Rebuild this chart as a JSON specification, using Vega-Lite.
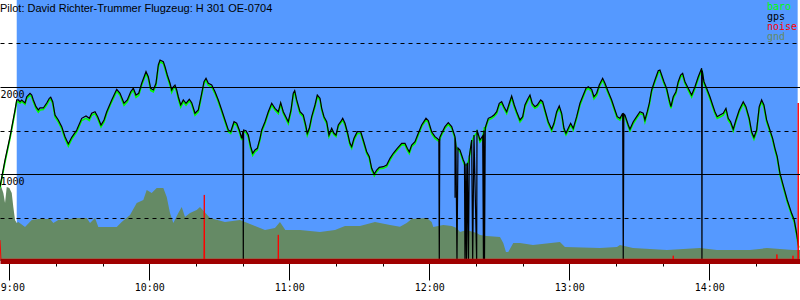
{
  "$schema": "https://vega.github.io/schema/vega-lite/v6.json",
  "width": 800,
  "height": 261,
  "autosize": {"type": "none"},
  "padding": {"left": 0, "top": 0, "right": 0, "bottom": 39},
  "background": "white",
  "config": {"view": {"stroke": null}},
  "title": {"text": "Pilot: David Richter-Trummer Flugzeug: H 301 OE-0704", "anchor": "start", "frame": "group", "orient": "top", "baseline": "top", "offset": -14, "font": "Liberation Sans", "fontSize": 11, "fontWeight": "normal", "color": "black"},
  "datasets": {
    "bg": [{"start": 3.17, "end": 337.9}],
    "track": [
      {"t": -4.0, "gps": 854, "baro": 840},
      {"t": -1.84, "gps": 1161, "baro": 1140},
      {"t": 0.3, "gps": 1429, "baro": 1410},
      {"t": 2.44, "gps": 1736, "baro": 1715},
      {"t": 3.17, "gps": 1851, "baro": 1830},
      {"t": 3.86, "gps": 1851, "baro": 1830},
      {"t": 4.59, "gps": 1831, "baro": 1815},
      {"t": 5.31, "gps": 1851, "baro": 1835},
      {"t": 6.73, "gps": 1816, "baro": 1800},
      {"t": 7.46, "gps": 1888, "baro": 1870},
      {"t": 8.87, "gps": 1928, "baro": 1905},
      {"t": 9.6, "gps": 1908, "baro": 1885},
      {"t": 10.29, "gps": 1851, "baro": 1830},
      {"t": 11.44, "gps": 1774, "baro": 1750},
      {"t": 12.43, "gps": 1736, "baro": 1710},
      {"t": 13.16, "gps": 1759, "baro": 1735},
      {"t": 14.57, "gps": 1759, "baro": 1740},
      {"t": 16.03, "gps": 1816, "baro": 1795},
      {"t": 17.14, "gps": 1870, "baro": 1850},
      {"t": 17.74, "gps": 1882, "baro": 1860},
      {"t": 18.6, "gps": 1831, "baro": 1810},
      {"t": 19.59, "gps": 1678, "baro": 1655},
      {"t": 21.0, "gps": 1621, "baro": 1600},
      {"t": 22.46, "gps": 1544, "baro": 1520},
      {"t": 23.87, "gps": 1429, "baro": 1405},
      {"t": 25.29, "gps": 1345, "baro": 1320},
      {"t": 26.74, "gps": 1422, "baro": 1400},
      {"t": 28.89, "gps": 1506, "baro": 1485},
      {"t": 31.03, "gps": 1640, "baro": 1615},
      {"t": 32.87, "gps": 1667, "baro": 1640},
      {"t": 34.29, "gps": 1640, "baro": 1615},
      {"t": 35.31, "gps": 1698, "baro": 1675},
      {"t": 36.73, "gps": 1716, "baro": 1695},
      {"t": 37.89, "gps": 1659, "baro": 1635},
      {"t": 39.3, "gps": 1563, "baro": 1540},
      {"t": 40.59, "gps": 1621, "baro": 1600},
      {"t": 41.74, "gps": 1716, "baro": 1695},
      {"t": 43.89, "gps": 1851, "baro": 1830},
      {"t": 46.03, "gps": 1974, "baro": 1950},
      {"t": 47.44, "gps": 1928, "baro": 1905},
      {"t": 49.16, "gps": 1813, "baro": 1790},
      {"t": 50.57, "gps": 1851, "baro": 1830},
      {"t": 52.03, "gps": 1946, "baro": 1925},
      {"t": 53.14, "gps": 1985, "baro": 1965},
      {"t": 54.3, "gps": 1908, "baro": 1880},
      {"t": 55.46, "gps": 1928, "baro": 1905},
      {"t": 56.74, "gps": 2043, "baro": 2020},
      {"t": 58.59, "gps": 2176, "baro": 2155},
      {"t": 59.57, "gps": 2118, "baro": 2095},
      {"t": 60.6, "gps": 1985, "baro": 1960},
      {"t": 61.71, "gps": 1966, "baro": 1945},
      {"t": 62.87, "gps": 2043, "baro": 2020},
      {"t": 63.86, "gps": 2253, "baro": 2230},
      {"t": 64.59, "gps": 2310, "baro": 2290},
      {"t": 66.0, "gps": 2291, "baro": 2270},
      {"t": 66.73, "gps": 2233, "baro": 2210},
      {"t": 67.71, "gps": 2138, "baro": 2115},
      {"t": 68.87, "gps": 2043, "baro": 2020},
      {"t": 69.6, "gps": 1966, "baro": 1940},
      {"t": 70.29, "gps": 2003, "baro": 1980},
      {"t": 71.01, "gps": 2023, "baro": 2000},
      {"t": 71.74, "gps": 1966, "baro": 1945},
      {"t": 72.43, "gps": 1888, "baro": 1865},
      {"t": 73.46, "gps": 1793, "baro": 1770},
      {"t": 74.57, "gps": 1851, "baro": 1830},
      {"t": 75.73, "gps": 1813, "baro": 1790},
      {"t": 77.14, "gps": 1859, "baro": 1840},
      {"t": 78.17, "gps": 1820, "baro": 1800},
      {"t": 79.59, "gps": 1698, "baro": 1675},
      {"t": 81.0, "gps": 1736, "baro": 1715},
      {"t": 82.46, "gps": 1928, "baro": 1905},
      {"t": 83.44, "gps": 2061, "baro": 2040},
      {"t": 84.3, "gps": 2100, "baro": 2080},
      {"t": 85.29, "gps": 2043, "baro": 2020},
      {"t": 86.74, "gps": 2023, "baro": 2000},
      {"t": 88.16, "gps": 1946, "baro": 1925},
      {"t": 89.57, "gps": 1851, "baro": 1830},
      {"t": 91.03, "gps": 1736, "baro": 1715},
      {"t": 92.44, "gps": 1621, "baro": 1600},
      {"t": 93.86, "gps": 1506, "baro": 1485},
      {"t": 94.89, "gps": 1486, "baro": 1465},
      {"t": 96.3, "gps": 1601, "baro": 1580},
      {"t": 97.46, "gps": 1583, "baro": 1560},
      {"t": 98.57, "gps": 1506, "baro": 1485},
      {"t": 99.6, "gps": 1410, "baro": 1390},
      {"t": 100.14, "gps": 1494, "baro": 1470},
      {"t": 100.29, "gps": 0, "baro": 1490},
      {"t": 100.41, "gps": 1506, "baro": 1490},
      {"t": 101.44, "gps": 1498, "baro": 1475},
      {"t": 102.43, "gps": 1448, "baro": 1425},
      {"t": 103.46, "gps": 1314, "baro": 1290},
      {"t": 104.31, "gps": 1238, "baro": 1215},
      {"t": 105.3, "gps": 1276, "baro": 1255},
      {"t": 106.29, "gps": 1295, "baro": 1275},
      {"t": 107.44, "gps": 1410, "baro": 1390},
      {"t": 108.17, "gps": 1506, "baro": 1485},
      {"t": 109.59, "gps": 1601, "baro": 1580},
      {"t": 111.0, "gps": 1716, "baro": 1695},
      {"t": 112.46, "gps": 1813, "baro": 1790},
      {"t": 113.87, "gps": 1755, "baro": 1735},
      {"t": 115.29, "gps": 1716, "baro": 1695},
      {"t": 116.31, "gps": 1820, "baro": 1800},
      {"t": 117.43, "gps": 1716, "baro": 1695},
      {"t": 119.57, "gps": 1601, "baro": 1580},
      {"t": 120.73, "gps": 1736, "baro": 1715},
      {"t": 121.71, "gps": 1928, "baro": 1905},
      {"t": 122.31, "gps": 1957, "baro": 1935},
      {"t": 123.17, "gps": 1851, "baro": 1830},
      {"t": 124.59, "gps": 1716, "baro": 1695},
      {"t": 126.0, "gps": 1678, "baro": 1655},
      {"t": 127.03, "gps": 1563, "baro": 1540},
      {"t": 127.71, "gps": 1468, "baro": 1445},
      {"t": 128.57, "gps": 1525, "baro": 1505},
      {"t": 129.6, "gps": 1659, "baro": 1640},
      {"t": 131.01, "gps": 1793, "baro": 1770},
      {"t": 132.0, "gps": 1908, "baro": 1885},
      {"t": 133.16, "gps": 1870, "baro": 1850},
      {"t": 133.89, "gps": 1755, "baro": 1735},
      {"t": 134.87, "gps": 1659, "baro": 1640},
      {"t": 136.03, "gps": 1601, "baro": 1580},
      {"t": 137.01, "gps": 1448, "baro": 1430},
      {"t": 138.17, "gps": 1525, "baro": 1505},
      {"t": 139.16, "gps": 1468, "baro": 1450},
      {"t": 140.01, "gps": 1448, "baro": 1430},
      {"t": 141.0, "gps": 1563, "baro": 1545},
      {"t": 142.03, "gps": 1601, "baro": 1585},
      {"t": 142.89, "gps": 1640, "baro": 1620},
      {"t": 143.87, "gps": 1583, "baro": 1565},
      {"t": 144.86, "gps": 1486, "baro": 1465},
      {"t": 146.01, "gps": 1353, "baro": 1335},
      {"t": 146.74, "gps": 1314, "baro": 1295},
      {"t": 147.73, "gps": 1410, "baro": 1390},
      {"t": 149.14, "gps": 1486, "baro": 1465},
      {"t": 150.6, "gps": 1486, "baro": 1465},
      {"t": 151.71, "gps": 1391, "baro": 1370},
      {"t": 153.17, "gps": 1256, "baro": 1235},
      {"t": 154.29, "gps": 1199, "baro": 1180},
      {"t": 155.31, "gps": 1066, "baro": 1045},
      {"t": 156.43, "gps": 1000, "baro": 980},
      {"t": 157.46, "gps": 1046, "baro": 1025},
      {"t": 158.57, "gps": 1077, "baro": 1060},
      {"t": 160.29, "gps": 1084, "baro": 1065},
      {"t": 161.74, "gps": 1103, "baro": 1085},
      {"t": 163.16, "gps": 1180, "baro": 1160},
      {"t": 164.57, "gps": 1238, "baro": 1220},
      {"t": 166.29, "gps": 1295, "baro": 1275},
      {"t": 168.17, "gps": 1353, "baro": 1335},
      {"t": 169.59, "gps": 1353, "baro": 1335},
      {"t": 170.57, "gps": 1295, "baro": 1275},
      {"t": 171.43, "gps": 1256, "baro": 1235},
      {"t": 172.46, "gps": 1333, "baro": 1315},
      {"t": 173.87, "gps": 1371, "baro": 1350},
      {"t": 175.29, "gps": 1468, "baro": 1450},
      {"t": 176.74, "gps": 1563, "baro": 1545},
      {"t": 178.59, "gps": 1640, "baro": 1620},
      {"t": 179.57, "gps": 1613, "baro": 1595},
      {"t": 181.03, "gps": 1486, "baro": 1465},
      {"t": 182.44, "gps": 1429, "baro": 1410},
      {"t": 183.86, "gps": 1399, "baro": 1380},
      {"t": 184.1, "gps": 1395, "baro": 1375},
      {"t": 184.29, "gps": 0, "baro": 1380},
      {"t": 184.5, "gps": 1420, "baro": 1400},
      {"t": 185.31, "gps": 1468, "baro": 1450},
      {"t": 186.73, "gps": 1544, "baro": 1525},
      {"t": 188.14, "gps": 1590, "baro": 1570},
      {"t": 189.6, "gps": 1544, "baro": 1525},
      {"t": 191.01, "gps": 1429, "baro": 1410},
      {"t": 191.05, "gps": 728, "baro": 1405},
      {"t": 191.1, "gps": 1420, "baro": 1400},
      {"t": 191.44, "gps": 1320, "baro": 1300},
      {"t": 191.87, "gps": 0, "baro": 1290},
      {"t": 192.3, "gps": 1300, "baro": 1285},
      {"t": 193.16, "gps": 1276, "baro": 1255},
      {"t": 194.57, "gps": 1161, "baro": 1140},
      {"t": 195.09, "gps": 1130, "baro": 1110},
      {"t": 195.3, "gps": 0, "baro": 1105},
      {"t": 195.73, "gps": 1120, "baro": 1100},
      {"t": 195.94, "gps": 0, "baro": 1100},
      {"t": 196.37, "gps": 1130, "baro": 1110},
      {"t": 196.8, "gps": 0, "baro": 1150},
      {"t": 197.14, "gps": 1200, "baro": 1180},
      {"t": 198.17, "gps": 1391, "baro": 1370},
      {"t": 198.6, "gps": 0, "baro": 1400},
      {"t": 199.16, "gps": 1448, "baro": 1430},
      {"t": 200.31, "gps": 0, "baro": 1470},
      {"t": 200.45, "gps": 1506, "baro": 1485},
      {"t": 201.73, "gps": 1391, "baro": 1370},
      {"t": 202.89, "gps": 1437, "baro": 1415},
      {"t": 203.23, "gps": 0, "baro": 1480},
      {"t": 203.4, "gps": 1500, "baro": 1490},
      {"t": 203.66, "gps": 0, "baro": 1540},
      {"t": 204.0, "gps": 1530, "baro": 1510},
      {"t": 204.6, "gps": 1583, "baro": 1565},
      {"t": 205.29, "gps": 1640, "baro": 1620},
      {"t": 206.74, "gps": 1659, "baro": 1640},
      {"t": 207.73, "gps": 1678, "baro": 1660},
      {"t": 208.89, "gps": 1716, "baro": 1695},
      {"t": 210.0, "gps": 1813, "baro": 1790},
      {"t": 211.03, "gps": 1831, "baro": 1810},
      {"t": 212.01, "gps": 1774, "baro": 1755},
      {"t": 213.17, "gps": 1716, "baro": 1695},
      {"t": 214.29, "gps": 1813, "baro": 1790},
      {"t": 215.31, "gps": 1897, "baro": 1875},
      {"t": 216.43, "gps": 1793, "baro": 1770},
      {"t": 217.46, "gps": 1716, "baro": 1695},
      {"t": 218.87, "gps": 1621, "baro": 1600},
      {"t": 220.03, "gps": 1659, "baro": 1640},
      {"t": 221.01, "gps": 1793, "baro": 1770},
      {"t": 222.17, "gps": 1859, "baro": 1840},
      {"t": 223.16, "gps": 1908, "baro": 1885},
      {"t": 224.14, "gps": 1813, "baro": 1790},
      {"t": 225.3, "gps": 1774, "baro": 1755},
      {"t": 226.29, "gps": 1793, "baro": 1770},
      {"t": 227.74, "gps": 1851, "baro": 1830},
      {"t": 228.6, "gps": 1831, "baro": 1810},
      {"t": 229.59, "gps": 1736, "baro": 1715},
      {"t": 231.0, "gps": 1601, "baro": 1580},
      {"t": 232.46, "gps": 1514, "baro": 1495},
      {"t": 233.44, "gps": 1583, "baro": 1565},
      {"t": 234.6, "gps": 1716, "baro": 1695},
      {"t": 235.71, "gps": 1782, "baro": 1760},
      {"t": 236.74, "gps": 1698, "baro": 1675},
      {"t": 237.73, "gps": 1525, "baro": 1505},
      {"t": 238.59, "gps": 1468, "baro": 1450},
      {"t": 239.57, "gps": 1525, "baro": 1505},
      {"t": 240.6, "gps": 1583, "baro": 1565},
      {"t": 241.71, "gps": 1525, "baro": 1505},
      {"t": 243.17, "gps": 1659, "baro": 1640},
      {"t": 244.59, "gps": 1813, "baro": 1790},
      {"t": 246.0, "gps": 1908, "baro": 1885},
      {"t": 247.16, "gps": 1985, "baro": 1965},
      {"t": 248.14, "gps": 2003, "baro": 1985},
      {"t": 249.6, "gps": 1974, "baro": 1950},
      {"t": 250.59, "gps": 1888, "baro": 1865},
      {"t": 251.74, "gps": 1928, "baro": 1905},
      {"t": 252.86, "gps": 2023, "baro": 2000},
      {"t": 254.31, "gps": 2100, "baro": 2080},
      {"t": 255.3, "gps": 2043, "baro": 2020},
      {"t": 256.71, "gps": 1946, "baro": 1925},
      {"t": 258.17, "gps": 1851, "baro": 1830},
      {"t": 259.59, "gps": 1736, "baro": 1715},
      {"t": 260.57, "gps": 1659, "baro": 1640},
      {"t": 261.73, "gps": 1640, "baro": 1620},
      {"t": 262.89, "gps": 1698, "baro": 1680},
      {"t": 263.14, "gps": 0, "baro": 1685},
      {"t": 263.4, "gps": 1690, "baro": 1670},
      {"t": 263.87, "gps": 1678, "baro": 1660},
      {"t": 265.29, "gps": 1563, "baro": 1545},
      {"t": 266.01, "gps": 1514, "baro": 1495},
      {"t": 267.43, "gps": 1601, "baro": 1580},
      {"t": 268.89, "gps": 1659, "baro": 1640},
      {"t": 270.3, "gps": 1716, "baro": 1695},
      {"t": 271.71, "gps": 1698, "baro": 1680},
      {"t": 272.44, "gps": 1621, "baro": 1600},
      {"t": 273.43, "gps": 1716, "baro": 1695},
      {"t": 274.29, "gps": 1813, "baro": 1790},
      {"t": 275.31, "gps": 1966, "baro": 1945},
      {"t": 276.73, "gps": 2080, "baro": 2060},
      {"t": 278.14, "gps": 2187, "baro": 2165},
      {"t": 278.87, "gps": 2195, "baro": 2175},
      {"t": 279.6, "gps": 2138, "baro": 2115},
      {"t": 280.59, "gps": 2061, "baro": 2040},
      {"t": 281.74, "gps": 1985, "baro": 1965},
      {"t": 282.86, "gps": 1851, "baro": 1830},
      {"t": 283.59, "gps": 1774, "baro": 1755},
      {"t": 284.57, "gps": 1888, "baro": 1865},
      {"t": 285.73, "gps": 1946, "baro": 1925},
      {"t": 286.71, "gps": 2061, "baro": 2040},
      {"t": 287.74, "gps": 2138, "baro": 2115},
      {"t": 288.6, "gps": 2157, "baro": 2135},
      {"t": 289.59, "gps": 2061, "baro": 2040},
      {"t": 291.0, "gps": 1985, "baro": 1965},
      {"t": 292.46, "gps": 1908, "baro": 1885},
      {"t": 293.87, "gps": 2003, "baro": 1980},
      {"t": 295.29, "gps": 2118, "baro": 2095},
      {"t": 296.74, "gps": 2215, "baro": 2195},
      {"t": 296.87, "gps": 0, "baro": 2190},
      {"t": 297.0, "gps": 2190, "baro": 2170},
      {"t": 297.73, "gps": 2061, "baro": 2040},
      {"t": 298.89, "gps": 1985, "baro": 1965},
      {"t": 300.3, "gps": 1888, "baro": 1865},
      {"t": 301.46, "gps": 1793, "baro": 1770},
      {"t": 302.44, "gps": 1716, "baro": 1695},
      {"t": 303.43, "gps": 1659, "baro": 1640},
      {"t": 304.59, "gps": 1678, "baro": 1655},
      {"t": 306.0, "gps": 1698, "baro": 1675},
      {"t": 307.16, "gps": 1755, "baro": 1735},
      {"t": 308.14, "gps": 1640, "baro": 1620},
      {"t": 309.17, "gps": 1601, "baro": 1580},
      {"t": 310.29, "gps": 1514, "baro": 1495},
      {"t": 311.44, "gps": 1621, "baro": 1600},
      {"t": 312.86, "gps": 1736, "baro": 1715},
      {"t": 314.57, "gps": 1831, "baro": 1810},
      {"t": 315.73, "gps": 1774, "baro": 1755},
      {"t": 317.14, "gps": 1640, "baro": 1620},
      {"t": 318.17, "gps": 1486, "baro": 1465},
      {"t": 319.16, "gps": 1422, "baro": 1400},
      {"t": 320.31, "gps": 1506, "baro": 1485},
      {"t": 321.43, "gps": 1774, "baro": 1755},
      {"t": 322.46, "gps": 1851, "baro": 1830},
      {"t": 323.44, "gps": 1793, "baro": 1770},
      {"t": 324.6, "gps": 1621, "baro": 1600},
      {"t": 326.01, "gps": 1506, "baro": 1485},
      {"t": 327.17, "gps": 1410, "baro": 1390},
      {"t": 328.16, "gps": 1295, "baro": 1275},
      {"t": 329.14, "gps": 1199, "baro": 1180},
      {"t": 330.3, "gps": 1010, "baro": 990},
      {"t": 331.71, "gps": 870, "baro": 850},
      {"t": 333.43, "gps": 701, "baro": 680},
      {"t": 335.31, "gps": 548, "baro": 530},
      {"t": 336.43, "gps": 471, "baro": 450},
      {"t": 337.46, "gps": 318, "baro": 300},
      {"t": 338.31, "gps": 164, "baro": 150}
    ],
    "gnd": [
      {"t": -4, "alt": 897}, {"t": -2.57, "alt": 781}, {"t": -1.84, "alt": 667}, {"t": -1.11, "alt": 851},
      {"t": 0, "alt": 839}, {"t": 1.03, "alt": 781}, {"t": 1.71, "alt": 621}, {"t": 2.44, "alt": 471},
      {"t": 3.17, "alt": 437}, {"t": 3.86, "alt": 448}, {"t": 6.73, "alt": 391}, {"t": 9.6, "alt": 471},
      {"t": 12.43, "alt": 483}, {"t": 17.44, "alt": 483}, {"t": 18.86, "alt": 437}, {"t": 21.0, "alt": 471},
      {"t": 22.46, "alt": 471}, {"t": 28.89, "alt": 494}, {"t": 33.17, "alt": 494}, {"t": 34.59, "alt": 437},
      {"t": 36.73, "alt": 494}, {"t": 38.14, "alt": 391}, {"t": 46.03, "alt": 391}, {"t": 48.17, "alt": 448},
      {"t": 51.73, "alt": 529}, {"t": 54.6, "alt": 667}, {"t": 57.43, "alt": 701}, {"t": 58.89, "alt": 816},
      {"t": 61.03, "alt": 781}, {"t": 63.17, "alt": 839}, {"t": 66.0, "alt": 839}, {"t": 67.46, "alt": 736},
      {"t": 68.87, "alt": 552}, {"t": 70.29, "alt": 437}, {"t": 72.43, "alt": 552}, {"t": 73.89, "alt": 621},
      {"t": 75.3, "alt": 506}, {"t": 77.44, "alt": 552}, {"t": 80.3, "alt": 586}, {"t": 81.73, "alt": 621},
      {"t": 86.0, "alt": 494}, {"t": 92.44, "alt": 448}, {"t": 98.87, "alt": 471}, {"t": 105.3, "alt": 402},
      {"t": 109.59, "alt": 356}, {"t": 113.87, "alt": 379}, {"t": 116.0, "alt": 448}, {"t": 118.3, "alt": 356},
      {"t": 124.59, "alt": 356}, {"t": 133.16, "alt": 333}, {"t": 139.59, "alt": 356}, {"t": 143.87, "alt": 402},
      {"t": 150.3, "alt": 402}, {"t": 156.73, "alt": 448}, {"t": 163.16, "alt": 414}, {"t": 167.44, "alt": 394},
      {"t": 170.31, "alt": 437}, {"t": 172.46, "alt": 483}, {"t": 178.89, "alt": 494}, {"t": 181.03, "alt": 448},
      {"t": 181.71, "alt": 391}, {"t": 186.0, "alt": 414}, {"t": 189.6, "alt": 402}, {"t": 191.74, "alt": 379},
      {"t": 193.16, "alt": 333}, {"t": 196.03, "alt": 356}, {"t": 200.31, "alt": 322}, {"t": 201.73, "alt": 299},
      {"t": 204.6, "alt": 287}, {"t": 210.3, "alt": 276}, {"t": 211.71, "alt": 207}, {"t": 212.87, "alt": 103},
      {"t": 213.86, "alt": 103}, {"t": 216.0, "alt": 207}, {"t": 218.87, "alt": 207}, {"t": 224.44, "alt": 184},
      {"t": 236.01, "alt": 218}, {"t": 238.16, "alt": 161}, {"t": 253.16, "alt": 149}, {"t": 260.44, "alt": 161},
      {"t": 261.73, "alt": 184}, {"t": 267.3, "alt": 149}, {"t": 281.87, "alt": 126}, {"t": 296.01, "alt": 149},
      {"t": 303.3, "alt": 126}, {"t": 317.44, "alt": 126}, {"t": 324.73, "alt": 149}, {"t": 335.87, "alt": 126},
      {"t": 338.9, "alt": 126}
    ],
    "noise": [
      {"t": -4, "v": 240}, {"t": -3.6, "v": 20}, {"t": 83.4, "v": 20}, {"t": 83.57, "v": 759}, {"t": 83.7, "v": 20},
      {"t": 115.2, "v": 20}, {"t": 115.29, "v": 300}, {"t": 115.4, "v": 20},
      {"t": 284.5, "v": 20}, {"t": 284.57, "v": 60}, {"t": 284.65, "v": 20},
      {"t": 328.9, "v": 20}, {"t": 329.0, "v": 75}, {"t": 329.1, "v": 20},
      {"t": 335.8, "v": 20}, {"t": 335.9, "v": 60}, {"t": 336.0, "v": 20},
      {"t": 338.0, "v": 20}, {"t": 338.14, "v": 1816}, {"t": 338.25, "v": 20}
    ]
  },
  "layer": [
    {
      "data": {"name": "bg"},
      "mark": {"type": "rect", "color": "#5599ff"},
      "encoding": {
        "x": {"field": "start", "type": "quantitative", "scale": {"domain": [-4, 338.9], "nice": false, "zero": false},
          "axis": {
            "title": null,
            "values": [0,5,10,15,20,25,30,35,40,45,50,55,60,65,70,75,80,85,90,95,100,105,110,115,120,125,130,135,140,145,150,155,160,165,170,175,180,185,190,195,200,205,210,215,220,225,230,235,240,245,250,255,260,265,270,275,280,285,290,295,300,305,310,315,320,325,330,335],
            "tickSize": {"condition": [{"test": "datum.value % 60 == 0", "value": 19}, {"test": "datum.value % 30 == 0", "value": 12}], "value": 5},
            "tickColor": "black",
            "tickWidth": 1,
            "domainColor": "#a00000",
            "domainWidth": 5,
            "grid": false,
            "labelExpr": "datum.value % 60 == 0 ? (9 + datum.value / 60) + ':00' : ''",
            "labelAlign": {"condition": {"test": "datum.value == 0", "value": "left"}, "value": "center"},
            "labelOffset": {"condition": {"test": "datum.value == 0", "value": -9}, "value": 0},
            "labelFont": "DejaVu Sans Mono",
            "labelFontSize": 10,
            "labelColor": "black",
            "labelBaseline": "top",
            "labelPadding": 2,
            "labelFlush": false,
            "labelOverlap": false,
            "zindex": 1
          }
        },
        "x2": {"field": "end"},
        "y": {"datum": 0, "type": "quantitative", "scale": {"domain": [0, 3000], "nice": false, "zero": false},
          "axis": {
            "title": null,
            "values": [500, 1000, 1500, 2000, 2500],
            "grid": true,
            "gridColor": "black",
            "gridWidth": 1,
            "gridOpacity": 1,
            "gridDash": {"condition": {"test": "datum.value % 1000 == 0", "value": []}, "value": [4, 4]},
            "domain": false,
            "ticks": false,
            "tickSize": 0,
            "labelExpr": "datum.value % 1000 == 0 ? '' + datum.value : ''",
            "labelAlign": "left",
            "labelBaseline": "top",
            "labelPadding": 0,
            "labelOffset": 2,
            "labelFont": "DejaVu Sans Mono",
            "labelFontSize": 10,
            "labelColor": "black",
            "zindex": 1
          }
        },
        "y2": {"datum": 3000}
      }
    },
    {
      "data": {"name": "gnd"},
      "mark": {"type": "area", "opacity": 1},
      "encoding": {
        "x": {"field": "t", "type": "quantitative", "axis": {"title": null}},
        "y": {"field": "alt", "type": "quantitative", "axis": {"title": null}},
        "color": {"datum": "gnd", "type": "nominal",
          "scale": {"domain": ["baro", "gps", "noise", "gnd"], "range": ["#00ff00", "#000000", "#ff0000", "#658a65"]},
          "legend": {
            "title": null,
            "orient": "top-right",
            "offset": 2,
            "padding": 0,
            "symbolSize": 0,
            "symbolOpacity": 0,
            "symbolStrokeWidth": 0,
            "labelOffset": 0,
            "rowPadding": 0,
            "labelFont": "DejaVu Sans Mono",
            "labelFontSize": 10,
            "zindex": 2,
            "encode": {"labels": {"update": {"fill": {"scale": "color", "field": "value"}}}}
          }
        }
      }
    },
    {
      "data": {"name": "track"},
      "mark": {"type": "line", "strokeWidth": 1.6},
      "encoding": {
        "x": {"field": "t", "type": "quantitative", "axis": {"title": null}},
        "y": {"field": "baro", "type": "quantitative", "axis": {"title": null}},
        "color": {"datum": "baro", "type": "nominal"}
      }
    },
    {
      "data": {"name": "track"},
      "mark": {"type": "line", "strokeWidth": 1.2},
      "encoding": {
        "x": {"field": "t", "type": "quantitative", "axis": {"title": null}},
        "y": {"field": "gps", "type": "quantitative", "axis": {"title": null}},
        "color": {"datum": "gps", "type": "nominal"}
      }
    },
    {
      "data": {"name": "noise"},
      "mark": {"type": "line", "strokeWidth": 1},
      "encoding": {
        "x": {"field": "t", "type": "quantitative", "axis": {"title": null}},
        "y": {"field": "v", "type": "quantitative", "axis": {"title": null}},
        "color": {"datum": "noise", "type": "nominal"}
      }
    }
  ]
}
